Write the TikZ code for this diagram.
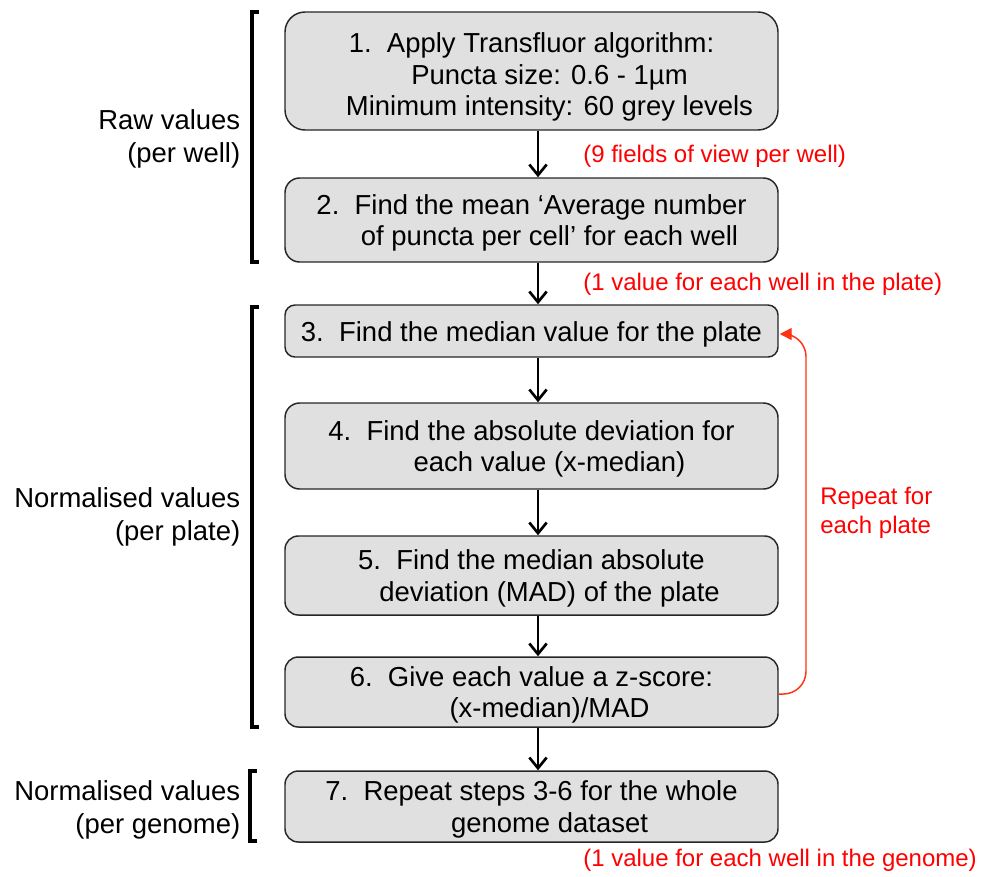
\documentclass[tikz,border=0pt]{standalone}
\usepackage{fontspec}
\setmainfont{Liberation Sans}
\usetikzlibrary{arrows.meta,calc}
\definecolor{boxfill}{HTML}{E0E0E0}
\definecolor{boxline}{HTML}{262626}
\definecolor{notered}{HTML}{FF0000}
\definecolor{looped}{HTML}{FF3314}
% continuation lines of a numbered step sit under the step text
\newcommand{\cont}{\hspace*{27pt}}
\begin{document}
\begin{tikzpicture}[x=0.75pt,y=-0.75pt,
  stepbox/.style={draw=boxline, line width=1.1pt, fill=boxfill,
    minimum width=369.75pt, inner sep=0pt},
  steptext/.style={inner sep=0pt, align=center,
    font=\fontsize{20.6}{23.8}\selectfont},
  sidelabel/.style={anchor=east, inner sep=0pt, align=right,
    font=\fontsize{20.6}{24.5}\selectfont},
  note/.style={anchor=west, inner sep=0pt, align=left, text=notered,
    font=\fontsize{18}{21.5}\selectfont},
  flow/.style={line width=2pt,
    -{Straight Barb[length=8pt,width=13pt,line width=2pt]}},
  loopback/.style={draw=looped, line width=1.1pt, rounded corners=17pt,
    -{Triangle[length=9pt,width=9pt]}},
  bracket/.style={line width=2.3pt, line cap=butt, line join=miter}]

\useasboundingbox (0,0) rectangle (984,876);

% process steps
\node[stepbox, minimum height=88.5pt, rounded corners=15pt] (b1) at (531.5,71) {};
\node[stepbox, minimum height=63pt, rounded corners=11pt] (b2) at (531.5,220) {};
\node[stepbox, minimum height=39pt, rounded corners=7.5pt] (b3) at (531.5,331) {};
\node[stepbox, minimum height=64.5pt, rounded corners=11pt] (b4) at (531.5,446) {};
\node[stepbox, minimum height=59.25pt, rounded corners=10pt] (b5) at (531.5,575.5) {};
\node[stepbox, minimum height=52.5pt, rounded corners=10pt] (b6) at (531.5,692) {};
\node[stepbox, minimum height=53.25pt, rounded corners=10pt] (b7) at (531.5,806.5) {};

% step texts
\node[steptext] (t1) at ($(b1.center)+(0,6)$)
  {1.\ \ Apply Transfluor algorithm:\\
   \cont Puncta size: 0.6 - 1µm\\
   \cont Minimum intensity: 60 grey levels};
\node[steptext] (t2) at ($(b2.center)+(0,3)$)
  {2.\ \ Find the mean ‘Average number\\
   \cont of puncta per cell’ for each well};
\node[steptext] (t3) at ($(b3.center)+(0,3)$)
  {3.\ \ Find the median value for the plate};
\node[steptext] (t4) at ($(b4.center)+(0,3)$)
  {4.\ \ Find the absolute deviation for\\
   \cont each value (x-median)};
\node[steptext] (t5) at ($(b5.center)+(0,3)$)
  {5.\ \ Find the median absolute\\
   \cont deviation (MAD) of the plate};
\node[steptext] (t6) at ($(b6.center)+(0,3)$)
  {6.\ \ Give each value a z-score:\\
   \cont (x-median)/MAD};
\node[steptext] (t7) at ($(b7.center)+(0,3)$)
  {7.\ \ Repeat steps 3-6 for the whole\\
   \cont genome dataset};

% flow arrows run down one column
\coordinate (ax) at (538,0);
\draw[flow] (b1.south -| ax) -- (b2.north -| ax);
\draw[flow] (b2.south -| ax) -- (b3.north -| ax);
\draw[flow] (b3.south -| ax) -- (b4.north -| ax);
\draw[flow] (b4.south -| ax) -- (b5.north -| ax);
\draw[flow] (b5.south -| ax) -- (b6.north -| ax);
\draw[flow] (b6.south -| ax) -- (b7.north -| ax);

% annotations in red
\node[note] (n1) at (583,156) {(9 fields of view per well)};
\node[note] (n2) at (583,284) {(1 value for each well in the plate)};
\node[note] (n3) at (583,860) {(1 value for each well in the genome)};
\node[note, font=\fontsize{18}{21.75}\selectfont] (n4) at (820,513)
  {Repeat for\\each plate};

% loop back from step 6 to step 3
\coordinate (lp) at (806,0);
\coordinate (ls) at ($(b6.east)+(0,2)$);
\coordinate (le) at ($(b3.east)+(1,3)$);
\draw[loopback] (ls) -- (ls -| lp) -- (le -| lp) -- (le);

% grouping brackets and their labels
\draw[bracket] (259,12) -- (252,12) -- (252,262) -- (259,262);
\draw[bracket] (259,307) -- (252,307) -- (252,727) -- (259,727);
\draw[bracket] (257,771) -- (250,771) -- (250,841) -- (257,841);

\node[sidelabel] (l1) at (240.5,139) {Raw values\\(per well)};
\node[sidelabel] (l2) at (240.5,517) {Normalised values\\(per plate)};
\node[sidelabel] (l3) at (240.5,810) {Normalised values\\(per genome)};

\end{tikzpicture}
\end{document}
